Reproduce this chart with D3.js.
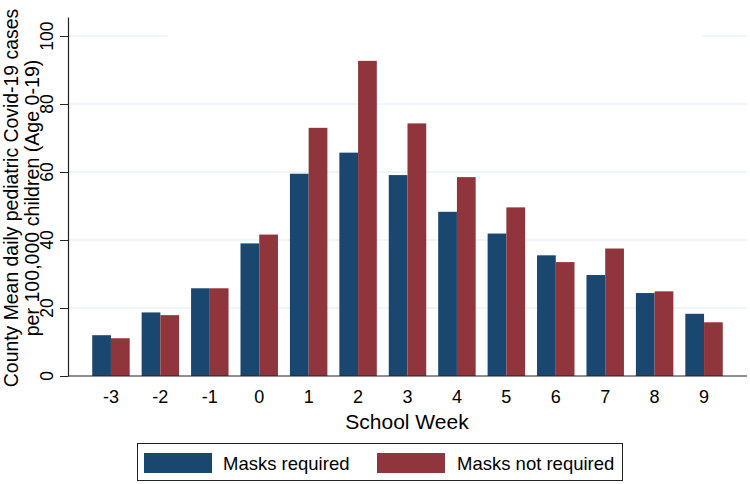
<!DOCTYPE html>
<html><head><meta charset="utf-8">
<script src="https://cdn.jsdelivr.net/npm/d3@7"></script>
<style>body{margin:0;background:#fff}svg{display:block}text{font-family:"Liberation Sans",Arial,Helvetica,sans-serif;fill:#000}</style>
</head><body><div id="chart"></div>
<script>
const weeks = ["-3","-2","-1","0","1","2","3","4","5","6","7","8","9"];
const seriesNames = ["Masks required","Masks not required"];
const masksRequired = [12.0,18.7,25.8,39.0,59.5,65.7,59.1,48.3,41.9,35.5,29.7,24.4,18.3];
const masksNotRequired = [11.1,17.9,25.8,41.6,73.0,92.7,74.3,58.5,49.6,33.5,37.5,24.9,15.8];
const yTicks = [0,20,40,60,80,100];
const colors = ["#1a476f","#90353b"];

const W=750,H=484;
const svg=d3.select("#chart").append("svg").attr("width",W).attr("height",H);
const x0=68,x1=747,yBot=376;
const y=d3.scaleLinear().domain([0,105.6]).range([yBot,17]);
const x=d3.scaleBand().domain(weeks).range([x0,x1]).paddingInner(0.242).paddingOuter(0.49);
const xs=d3.scaleBand().domain(seriesNames).range([0,x.bandwidth()]);

// gridlines
const grid=svg.append("g");
yTicks.filter(t=>t>0 && t<100).forEach(t=>{
  grid.append("line").attr("x1",x0).attr("x2",x1).attr("y1",y(t)).attr("y2",y(t))
    .attr("stroke","#e3ebf0").attr("stroke-width",1);
});
[[x0,168],[702,x1]].forEach(([a,b])=>{
  grid.append("line").attr("x1",a).attr("x2",b).attr("y1",y(100)).attr("y2",y(100))
    .attr("stroke","#e3ebf0").attr("stroke-width",1);
});

const data=weeks.map((w,i)=>({w,vals:[masksRequired[i],masksNotRequired[i]]}));
const g=svg.append("g");
data.forEach(d=>{
  d.vals.forEach((v,j)=>{
    g.append("rect").attr("x",x(d.w)+xs(seriesNames[j])).attr("width",xs.bandwidth())
      .attr("y",y(v)).attr("height",y(0)-y(v)).attr("fill",colors[j]);
  });
});

// y axis
const ya=svg.append("g").attr("transform",`translate(${x0},0)`)
  .call(d3.axisLeft(y).tickValues(yTicks).tickSize(8).tickSizeOuter(0).tickFormat(()=>""));
ya.select(".domain").attr("stroke","#222").attr("stroke-width",1.2);
ya.selectAll(".tick line").attr("stroke","#222");
svg.append("g").selectAll("text").data(yTicks).join("text")
  .attr("transform",t=>`translate(53,${y(t)}) rotate(-90)`)
  .attr("text-anchor","middle").style("font-size","17.5px").text(t=>t);

// x axis
const xa=svg.append("g").attr("transform",`translate(0,${yBot})`)
  .call(d3.axisBottom(x).tickSize(0).tickSizeOuter(0).tickFormat(()=>""));
xa.select(".domain").attr("stroke","#222").attr("stroke-width",1.2).attr("d",`M${x0},0H${x1}`);
svg.append("g").selectAll("text").data(weeks).join("text")
  .attr("x",w=>x(w)+x.bandwidth()/2).attr("y",403)
  .attr("text-anchor","middle").style("font-size","18px").text(w=>w);

// titles
svg.append("text").attr("x",407).attr("y",429).attr("text-anchor","middle").style("font-size","21px").text("School Week");
const cy=198;
svg.append("text").attr("transform",`translate(18,${cy}) rotate(-90)`).attr("text-anchor","middle").style("font-size","19.4px")
  .text("County Mean daily pediatric Covid-19 cases");
svg.append("text").attr("transform",`translate(38.5,${cy}) rotate(-90)`).attr("text-anchor","middle").style("font-size","19.6px")
  .text("per 100,000 children (Age 0-19)");

// legend
const lg=svg.append("g");
lg.append("rect").attr("x",137.5).attr("y",443.5).attr("width",485).attr("height",37).attr("fill","#fff").attr("stroke","#222").attr("stroke-width",1);
const legendItems=[{sx:144,tx:223},{sx:377,tx:457}];
seriesNames.forEach((n,j)=>{
  lg.append("rect").attr("x",legendItems[j].sx).attr("y",453).attr("width",68).attr("height",20).attr("fill",colors[j]);
  lg.append("text").attr("x",legendItems[j].tx).attr("y",470).style("font-size","18.5px").text(n);
});
</script></body></html>
